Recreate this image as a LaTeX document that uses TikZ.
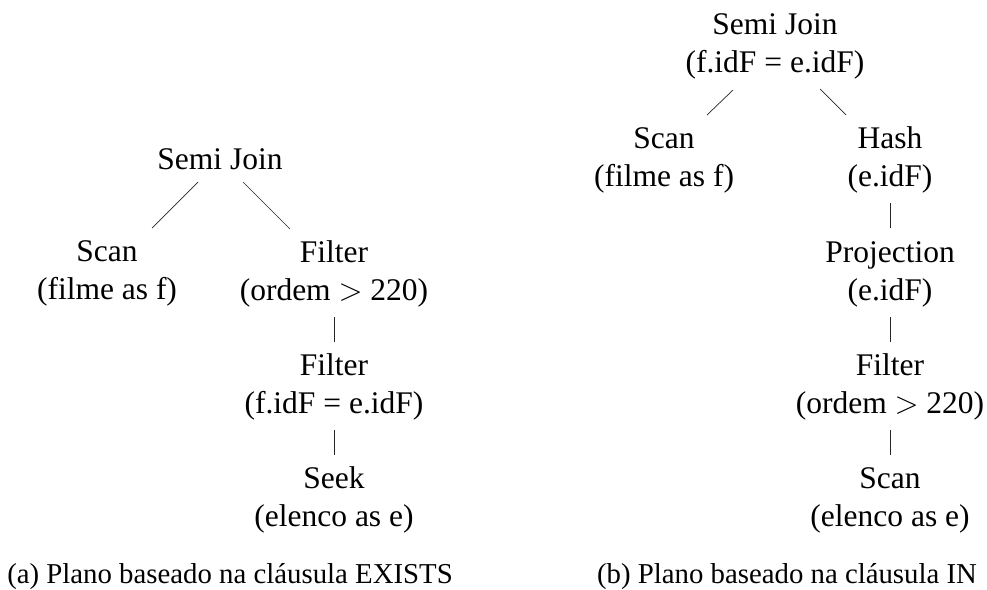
\RequirePackage{fix-cm}
\documentclass[tikz,border=0pt]{standalone}
\usepackage{fontspec}
\setmainfont{Liberation Serif}
\usetikzlibrary{calc}
\tikzset{
  op/.style={align=center, anchor=base, inner sep=0pt, font=\fontsize{31.5}{38.5}\selectfont},
  captext/.style={anchor=base, inner sep=0pt, font=\fontsize{28.8}{34}\selectfont},
  edge/.style={line width=0.7pt, draw=black!85}
}
\begin{document}
\begin{tikzpicture}[x=1pt, y=-1pt]
\useasboundingbox (0,0) rectangle (987,589);
% left tree (base anchor = baseline of last line)
\node[op] (sj) at (220,169) {Semi Join};
\node[op] (scan) at (107,299.5) {Scan\\(filme as f)};
\node[op] (f1) at (334,300.5) {Filter\\(ordem $>$ 220)};
\node[op] (f2) at (334,413.5) {Filter\\(f.idF = e.idF)};
\node[op] (seek) at (334,526.5) {Seek\\(elenco as e)};
\draw[edge] ($(sj.base)+(-22,13)$) -- ($(scan.base)+(45,-71.5)$);
\draw[edge] ($(sj.base)+(23,13)$) -- ($(f1.base)+(-44,-71.5)$);
\draw[edge] ($(f1.base)+(0,16.5)$) -- ($(f2.base)+(0,-71.5)$);
\draw[edge] ($(f2.base)+(0,16.5)$) -- ($(seek.base)+(0,-71.5)$);
% right tree
\node[op] (sj2) at (775,72.5) {Semi Join\\(f.idF = e.idF)};
\node[op] (scan2) at (664,186.5) {Scan\\(filme as f)};
\node[op] (hash) at (890,186.5) {Hash\\(e.idF)};
\node[op] (proj) at (890,300.5) {Projection\\(e.idF)};
\node[op] (f3) at (890,413.5) {Filter\\(ordem $>$ 220)};
\node[op] (scan3) at (890,526.5) {Scan\\(elenco as e)};
\draw[edge] ($(sj2.base)+(-42,17.5)$) -- ($(scan2.base)+(43,-71.5)$);
\draw[edge] ($(sj2.base)+(45,16.5)$) -- ($(hash.base)+(-44,-71.5)$);
\draw[edge] ($(hash.base)+(0,16.5)$) -- ($(proj.base)+(0,-72.5)$);
\draw[edge] ($(proj.base)+(0,16.5)$) -- ($(f3.base)+(0,-71.5)$);
\draw[edge] ($(f3.base)+(0,16.5)$) -- ($(scan3.base)+(0,-71.5)$);
% captions
\node[captext] (capa) at (230,583) {(a) Plano baseado na cláusula EXISTS};
\node[captext] (capb) at (787,583) {(b) Plano baseado na cláusula IN};
\end{tikzpicture}
\end{document}
